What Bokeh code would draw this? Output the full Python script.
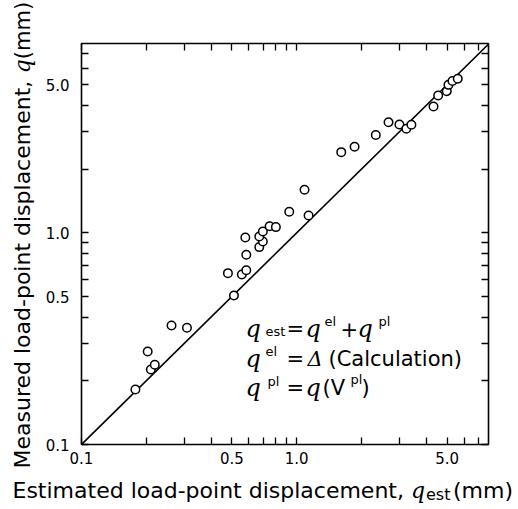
import math
from bokeh.plotting import figure
from bokeh.layouts import row, column
from bokeh.models import FixedTicker, LogAxis, Label
from bokeh.embed import file_html
from bokeh.resources import INLINE

# ---- data (mm) ----
q_est = [0.178, 0.203, 0.210, 0.219, 0.262, 0.309, 0.479, 0.511, 0.556, 0.583,
         0.583, 0.577, 0.670, 0.696, 0.670, 0.696, 0.748, 0.800, 0.923, 1.087,
         1.135, 1.610, 1.857, 2.33, 2.67, 3.00, 3.23, 3.41, 4.32, 4.54,
         4.98, 5.07, 5.29, 5.60]
q_meas = [0.182, 0.275, 0.226, 0.238, 0.365, 0.356, 0.645, 0.506, 0.636, 0.666,
          0.787, 0.950, 0.856, 0.910, 0.961, 1.014, 1.074, 1.064, 1.257, 1.597,
          1.208, 2.405, 2.548, 2.90, 3.33, 3.25, 3.10, 3.24, 3.95, 4.45,
          4.67, 5.00, 5.21, 5.34]
line_x = [0.1, 10.0]
line_y = [0.1, 10.0]
tick_values = [0.1, 0.2, 0.3, 0.4, 0.5, 0.6, 0.7, 0.8, 0.9,
               1.0, 2.0, 3.0, 4.0, 5.0, 6.0, 7.0]
tick_labels = {0.1: "0.1", 0.5: "0.5", 1.0: "1.0", 5.0: "5.0"}

x_title = "Estimated load-point displacement, "
y_title = "Measured load-point displacement, "

ADV = {' ': .318, ',': .318, '-': .361, '(': .390, ')': .390, 'E': .632, 'M': .863,
       'a': .613, 'c': .550, 'd': .635, 'e': .615, 'i': .278, 'l': .278, 'm': .974,
       'n': .634, 'o': .612, 'p': .635, 'r': .411, 's': .521, 't': .392, 'u': .634}


def width(txt, size):
    return sum(ADV.get(ch, .6) for ch in txt) * size


SANS = "DejaVu Sans"
SERIF = "DejaVu Serif"
BL = 6  # baseline correction (px)

# ---------------- main plot ----------------
p = figure(width=480, height=476, x_axis_type="log", y_axis_type="log",
           x_range=(0.1, 7.78), y_range=(0.1, 7.84),
           output_backend="svg", toolbar_location=None,
           min_border_left=43, min_border_right=30,
           min_border_top=43, min_border_bottom=32)
p.frame_align = False
p.grid.visible = False
p.outline_line_color = "black"
p.outline_line_width = 1.6
p.background_fill_color = "white"
p.border_fill_color = "white"


def style_axis(ax, labels=True):
    ax.ticker = FixedTicker(ticks=tick_values)
    ax.axis_line_color = None
    ax.major_tick_in = 7
    ax.major_tick_out = 0
    ax.major_tick_line_width = 1.3
    ax.major_tick_line_color = "black"
    ax.minor_tick_line_color = None
    ax.major_label_overrides = {v: (tick_labels.get(v, "") if labels else "")
                                for v in tick_values}
    ax.major_label_text_font = SANS
    ax.major_label_text_font_size = "15px"
    ax.major_label_text_color = "black"


style_axis(p.xaxis[0])
style_axis(p.yaxis[0])
p.xaxis[0].major_label_standoff = 7
p.yaxis[0].major_label_standoff = 12

top = LogAxis()
right = LogAxis()
style_axis(top, labels=False)
style_axis(right, labels=False)
p.add_layout(top, "above")
p.add_layout(right, "right")

p.line(line_x, line_y, line_color="black", line_width=1.6)
p.scatter(q_est, q_meas, marker="circle", size=8.5, fill_color="white",
          line_color="black", line_width=1.5)


def txt(fig, x, y, text, size, font=SANS, style="normal", angle=0.0):
    if angle:
        x -= BL
    else:
        y += BL
    fig.add_layout(Label(x=x, y=y, x_units="screen", y_units="screen", text=text,
                         text_font=font, text_font_size=f"{size}px",
                         text_font_style=style, text_color="black",
                         text_baseline="alphabetic", text_align="left",
                         angle=angle))


# ---- formula block (inside the frame) ----
fs = 21
L1, L2, L3 = 110, 80, 51
txt(p, 164, L1, "q", 24, SERIF, "italic")
txt(p, 184, L1 - 3, "est", 13)
txt(p, 205, L1, "=", fs)
txt(p, 224, L1, "q", 24, SERIF, "italic")
txt(p, 243, L1 + 7, "el", 13)
txt(p, 259, L1, "+", fs)
txt(p, 276, L1, "q", 24, SERIF, "italic")
txt(p, 297, L1 + 7, "pl", 13)

txt(p, 164, L2, "q", 24, SERIF, "italic")
txt(p, 184, L2 + 7, "el", 13)
txt(p, 205, L2, "=", fs)
txt(p, 226, L2, "Δ", fs, SERIF, "italic")
txt(p, 247, L2, "(Calculation)", fs)

txt(p, 164, L3, "q", 24, SERIF, "italic")
txt(p, 186, L3 + 6, "pl", 13)
txt(p, 205, L3, "=", fs)
txt(p, 224, L3, "q", 24, SERIF, "italic")
txt(p, 241, L3, "(V", fs)
txt(p, 269, L3 + 8, "pl", 13)
txt(p, 280, L3, ")", fs)


def strip(w, h):
    f = figure(width=w, height=h, x_range=(0, 1), y_range=(0, 1),
               x_axis_location=None, y_axis_location=None,
               output_backend="svg", toolbar_location=None, min_border=0)
    f.frame_align = False
    f.grid.visible = False
    f.outline_line_color = None
    f.background_fill_color = "white"
    f.border_fill_color = "white"
    return f


# ---- y-axis title strip (left) ----
ty = strip(38, 476)
ts = 22
A = math.pi / 2
yb = 8
txt(ty, 28, yb, y_title, ts, angle=A)
yq = yb + width(y_title, ts)
txt(ty, 28, yq, "q", 22, SERIF, "italic", angle=A)
txt(ty, 28, yq + 14, "(mm)", 21, angle=A)

# ---- x-axis title strip (bottom) ----
tx = strip(518, 33)
xb = 12
tb = 13
txt(tx, xb, tb, x_title, ts)
xq = xb + width(x_title, ts)
txt(tx, xq, tb, "q", 22, SERIF, "italic")
txt(tx, xq + 15, tb - 4, "est", 16)
txt(tx, xq + 15 + 27, tb, "(mm)", ts)

layout = column(row(ty, p), tx)
open("out.html", "w").write(file_html(layout, INLINE))
